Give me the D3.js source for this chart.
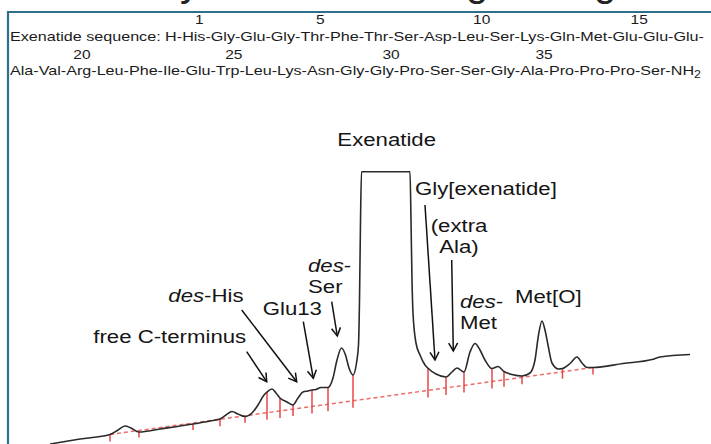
<!DOCTYPE html>
<html>
<head>
<style>
  body { margin: 0; background: #fff; }
  svg { display: block; font-family: "Liberation Sans", Arial, sans-serif; }
</style>
</head>
<body>
<script src="https://d3js.org/d3.v7.min.js"></script>
<div id="chart"></div>
<script>
const width = 711
const height = 444

// peptide sequence, 17 residues on the first line
const residues = ["His", "Gly", "Glu", "Gly", "Thr", "Phe", "Thr", "Ser", "Asp", "Leu", "Ser", "Lys", "Gln", "Met", "Glu", "Glu", "Glu",
    "Ala", "Val", "Arg", "Leu", "Phe", "Ile", "Glu", "Trp", "Leu", "Lys", "Asn", "Gly", "Gly", "Pro", "Ser", "Ser", "Gly", "Ala", "Pro", "Pro", "Pro", "Ser"]
const firstLineCount = 17
const numberedResidues = [1, 5, 10, 15, 20, 25, 30, 35]

// chromatogram trace (retention time in min, signal in mAU)
const traceTime = [5.0, 8.0, 11.0, 11.8, 12.5, 13.1, 13.9, 16.0, 19.3, 21.0, 22.0, 22.6, 23.2, 23.8, 24.5, 25.2, 25.8, 26.4, 26.7, 27.2,
    27.6, 28.0, 28.7, 29.3, 29.8, 30.3, 30.8, 31.2, 31.6, 32.1, 32.8, 33.3, 33.7, 34.15, 34.55, 34.9, 35.3, 35.65, 35.85, 35.95,
    36.05, 36.15, 41.0, 41.1, 41.2, 41.3, 41.6, 42.0, 42.5, 42.8, 43.6, 44.6, 45.2, 45.7, 46.4, 47.0, 47.5, 48.0, 48.5, 49.2,
    49.8, 50.4, 51.2, 52.2, 53.0, 53.5, 53.85, 54.2, 54.5, 54.8, 55.2, 55.85, 56.25, 57.0, 57.7, 58.2, 58.7, 59.3, 62.3, 65.2,
    66.0, 69.0]
const traceSignal = [0, 5, 9.5, 14, 18, 16, 12, 15, 20, 23, 25, 29, 32.5, 30, 27.5, 31, 39, 49, 52, 55,
    51, 46, 42, 39, 46, 52, 53, 54, 54.5, 56.5, 56.5, 66, 84, 96, 89, 76, 69, 81, 99, 144,
    222, 272.3, 272.3, 224, 164, 131, 101, 89, 79, 75.7, 70, 67, 72, 76, 72, 92, 100.5, 94, 84, 75.5,
    77.5, 72.5, 69.5, 68, 71, 84, 109, 123, 114, 99, 81, 75, 75.5, 80.5, 87, 81, 76.5, 76.5, 80.5, 84.5,
    87, 89.5]

// integration drop lines
const dropTimes = [11.0, 13.9, 19.3, 22.0, 24.5, 26.7, 28.0, 29.3, 31.2, 32.8, 35.3, 42.8, 44.6, 46.4, 49.2, 50.4, 52.2, 56.25, 59.3]

// peak labels: lines of [text, italic], anchor point and arrow (time, signal)
const annotations = [
    { lines: [[["Exenatide", false]]], at: [38.67, 298], anchor: "middle", arrow: null },
    { lines: [[["Gly[exenatide]", false]]], at: [41.5, 249], anchor: "start", arrow: [[42.5, 239], [43.5, 84]] },
    { lines: [[["(extra", false]], [["Ala)", false]]], at: [45.9, 212.3], anchor: "middle", arrow: [[45.17, 184], [45.33, 93]] },
    { lines: [[["des", true], ["-", false]], [["Met", false]]], at: [46.0, 136], anchor: "start", arrow: null },
    { lines: [[["Met[O]", false]]], at: [51.5, 140.7], anchor: "start", arrow: null },
    { lines: [[["des", true], ["-", false]], [["Ser", false]]], at: [30.8, 172.3], anchor: "start", arrow: [[33.17, 142.3], [33.73, 108]] },
    { lines: [[["Glu13", false]]], at: [26.27, 129], anchor: "start", arrow: [[30.33, 122.3], [31.33, 65.7]] },
    { lines: [[["des", true], ["-His", false]]], at: [16.83, 142.3], anchor: "start", arrow: [[24.17, 134], [29.67, 62.3]] },
    { lines: [[["free C-terminus", false]]], at: [9.33, 100.7], anchor: "start", arrow: [[24.67, 92.3], [26.67, 62.3]] }
]

const svg = d3.select("#chart").append("svg").attr("width", width).attr("height", height)

const x = d3.scaleLinear().domain([0, 71.1]).range([0, width])
const y = d3.scaleLinear().domain([0, 444]).range([height, 0])

// bottom of the cropped slide title
const titleBits = svg.append("g").attr("fill", "#222").attr("font-size", 40)
titleBits.append("text").attr("x", 180).attr("y", -4).text("y")
titleBits.append("text").attr("x", 466).attr("y", -4).text("g")
titleBits.append("text").attr("x", 594).attr("y", -4).text("g")

// frame
svg.append("path")
    .attr("d", `M8,${height} L8,12 L${width},12`)
    .attr("fill", "none")
    .attr("stroke", "#2e6f8e")
    .attr("stroke-width", 2.2)

// sequence text
const seqScale = 1.242
const seqFont = 13
const seqColor = "#1b1b1b"

const drawSeqLine = (str, baseline, withNH2) => {
    const t = svg.append("text")
        .attr("transform", `translate(10,${baseline}) scale(${seqScale},1)`)
        .attr("font-size", seqFont)
        .attr("fill", seqColor)
    t.append("tspan").text(str)
    if (withNH2) {
        t.append("tspan").text("NH")
        t.append("tspan").attr("font-size", 10).attr("dy", 3).text("2")
    }
    return t
}

const prefix1 = "Exenatide sequence: H-"
const line1 = prefix1 + residues.slice(0, firstLineCount).join("-") + "-"
const line2 = residues.slice(firstLineCount).join("-") + "-"
const t1 = drawSeqLine(line1, 41, false)
const t2 = drawSeqLine(line2, 75, true)

// numbers sit on a slightly wider spacing than the residues, as in the source
const residueCenter = (n) => {
    const onFirst = n <= firstLineCount
    const list = onFirst ? residues.slice(0, firstLineCount) : residues.slice(firstLineCount)
    const idx = onFirst ? n - 1 : n - 1 - firstLineCount
    let start = onFirst ? prefix1.length : 0
    for (let i = 0; i < idx; i++) start += list[i].length + 1
    const node = (onFirst ? t1 : t2).node()
    const before = start > 0 ? node.getSubStringLength(0, start) : 0
    const len = node.getSubStringLength(start, list[idx].length)
    const c = 10 + seqScale * (before + len / 2)
    return { x: 1.02 * c + 1.6, onFirst }
}

numberedResidues.forEach(n => {
    const c = residueCenter(n)
    svg.append("text")
        .attr("transform", `translate(${c.x},${c.onFirst ? 24 : 59}) scale(${seqScale},1)`)
        .attr("text-anchor", "middle")
        .attr("font-size", 12.5)
        .attr("fill", seqColor)
        .text(n)
})

// trace
const points = traceTime.map((t, i) => [t, traceSignal[i]])
const signalAt = (t) => {
    const i = d3.bisector(d => d[0]).left(points, t)
    if (points[i][0] === t || i === 0) return points[i][1]
    const a = points[i - 1], b = points[i]
    return a[1] + (b[1] - a[1]) * (t - a[0]) / (b[0] - a[0])
}

const baseA = [dropTimes[0], signalAt(dropTimes[0])]
const baseB = [dropTimes[dropTimes.length - 1], signalAt(dropTimes[dropTimes.length - 1])]
const baselineAt = (t) => baseA[1] + (baseB[1] - baseA[1]) * (t - baseA[0]) / (baseB[0] - baseA[0])

svg.append("line")
    .attr("x1", x(baseA[0])).attr("y1", y(baseA[1]))
    .attr("x2", x(baseB[0])).attr("y2", y(baseB[1]))
    .attr("stroke", "#f06a6a")
    .attr("stroke-width", 1.5)
    .attr("stroke-dasharray", "4,3")

svg.append("g")
    .selectAll("line")
    .data(dropTimes)
    .enter()
    .append("line")
    .attr("x1", d => x(d)).attr("x2", d => x(d))
    .attr("y1", d => y(signalAt(d)))
    .attr("y2", d => y(baselineAt(d)) + 7)
    .attr("stroke", "#e8474a")
    .attr("stroke-width", 1.5)

svg.append("path")
    .datum(points)
    .attr("fill", "none")
    .attr("stroke", "#2a2a2a")
    .attr("stroke-width", 1.6)
    .attr("d", d3.line().x(d => x(d[0])).y(d => y(d[1])).curve(d3.curveMonotoneX))

// annotations
svg.append("defs").append("marker")
    .attr("id", "head")
    .attr("viewBox", "-10 -6 12 12")
    .attr("refX", 0).attr("refY", 0)
    .attr("markerWidth", 12).attr("markerHeight", 12)
    .attr("markerUnits", "userSpaceOnUse")
    .attr("orient", "auto")
    .append("path")
    .attr("d", "M-8,-4.5 L0,0 L-8,4.5")
    .attr("fill", "none")
    .attr("stroke", "#111")
    .attr("stroke-width", 1.5)

const labelScale = 1.2
const lineGap = 21

annotations.forEach(a => {
    a.lines.forEach((segs, li) => {
        const t = svg.append("text")
            .attr("transform", `translate(${x(a.at[0])},${y(a.at[1]) + li * lineGap}) scale(${labelScale},1)`)
            .attr("text-anchor", a.anchor)
            .attr("font-size", 18.5)
            .attr("fill", "#151515")
        segs.forEach(s => {
            t.append("tspan").attr("font-style", s[1] ? "italic" : "normal").text(s[0])
        })
    })
    if (a.arrow) {
        svg.append("line")
            .attr("x1", x(a.arrow[0][0])).attr("y1", y(a.arrow[0][1]))
            .attr("x2", x(a.arrow[1][0])).attr("y2", y(a.arrow[1][1]))
            .attr("stroke", "#111")
            .attr("stroke-width", 1.5)
            .attr("marker-end", "url(#head)")
    }
})
</script>
</body>
</html>
